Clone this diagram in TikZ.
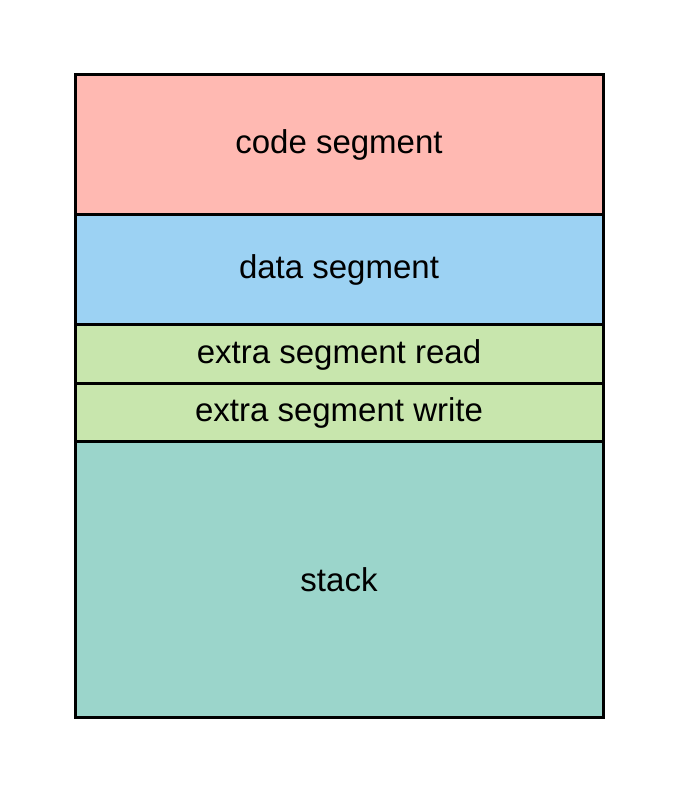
\documentclass[tikz,border=0pt]{standalone}
\usepackage{fontspec}
\setmainfont{Liberation Sans}
\usetikzlibrary{positioning}
\definecolor{codecol}{HTML}{FFB9B2}
\definecolor{datacol}{HTML}{9CD2F3}
\definecolor{extracol}{HTML}{C8E6AD}
\definecolor{stackcol}{HTML}{9BD5CB}
\tikzset{
  segbox/.style={draw=black, line width=3pt, minimum width=528pt, inner sep=0pt, outer sep=0pt,
    font=\fontsize{33pt}{38pt}\selectfont}
}
\begin{document}
\begin{tikzpicture}[x=1pt,y=1pt]
    \useasboundingbox (0,0) rectangle (679,793);
    \node[segbox, fill=codecol, minimum height=140pt, anchor=north west] (code) at (75,718) {code segment};
    \node[segbox, fill=datacol, minimum height=110pt, below=0pt of code] (data) {data segment};
    \node[segbox, fill=extracol, minimum height=59pt, below=0pt of data] (read) {extra segment read};
    \node[segbox, fill=extracol, minimum height=58pt, below=0pt of read] (write) {extra segment write};
    \node[segbox, fill=stackcol, minimum height=276pt, below=0pt of write] (stack) {stack};
\end{tikzpicture}
\end{document}
